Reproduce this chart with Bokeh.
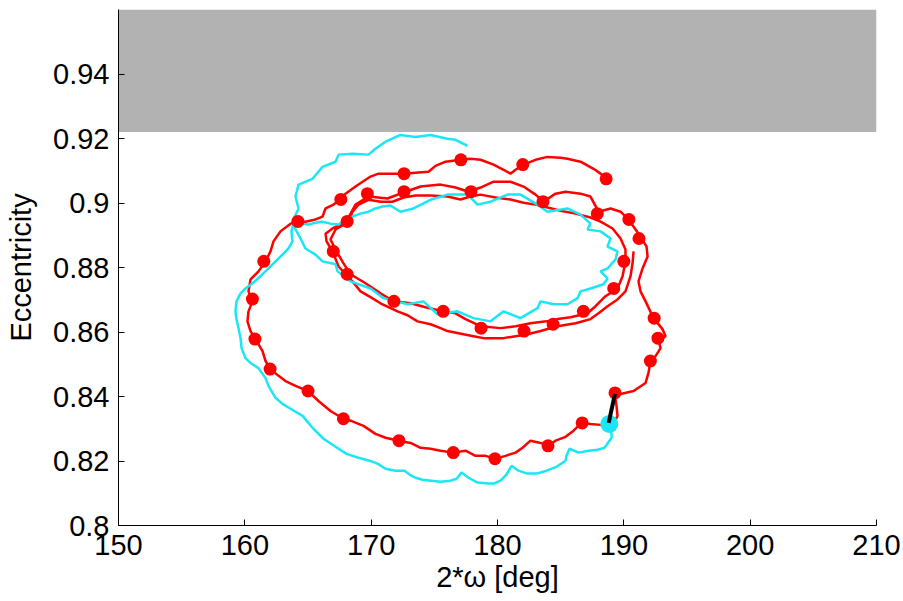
from bokeh.plotting import figure
from bokeh.models import FixedTicker, CustomJSTickFormatter, Range1d
from bokeh.embed import file_html
from bokeh.resources import INLINE

# ---------------- data ----------------
x_ticks = [150, 160, 170, 180, 190, 200, 210]
y_ticks = [0.80, 0.82, 0.84, 0.86, 0.88, 0.90, 0.92, 0.94]

# forbidden (grey) eccentricity zone
band_x = [150, 210]
band_y = [0.922, 0.96]

# cyan track (starts at the cyan marker)
cyan_x = [188.79, 189.03, 189.03, 188.47, 187.92, 187.21, 186.41, 185.70, 185.46, 185.39,
          184.67, 183.88, 183.09, 182.38, 181.66, 181.11, 180.71, 180.24, 179.69, 179.29,
          178.42, 177.71, 177.15, 176.76, 176.28, 175.49, 174.78, 174.06, 173.51, 173.04,
          172.64, 171.93, 171.14, 170.50, 169.87, 169.00, 168.05, 167.18, 166.23, 165.36,
          164.57, 163.62, 162.98, 162.43, 161.87, 161.64, 161.08, 160.45, 160.05, 159.74,
          159.66, 159.50, 159.34, 159.26, 159.34, 159.66, 160.05, 160.61, 161.24, 161.87,
          162.43, 162.98, 163.46, 163.77, 163.69, 163.85, 164.41, 165.04, 165.59, 166.15,
          166.78, 167.42, 167.97, 168.52, 169.16, 169.79, 170.34, 170.90, 171.53, 172.32,
          173.35, 174.70, 176.04, 177.63, 178.42, 179.45, 180.79, 181.82, 183.17, 183.96,
          185.54, 186.57, 187.36, 187.13, 188.16, 188.95, 188.71, 189.50, 189.34, 188.71,
          188.16, 188.71, 188.39, 187.36, 186.57, 186.34, 185.54, 184.44, 183.41, 183.17,
          181.82, 180.48, 179.45, 178.10, 176.84, 175.25, 174.14, 172.88, 170.98, 169.95,
          168.37, 167.34, 167.18, 166.15, 165.59, 164.80, 164.41, 164.01, 163.85, 164.25,
          164.01, 164.25, 165.36, 165.83, 166.15, 167.18, 167.42, 168.52, 169.79, 170.34,
          171.14, 172.32, 173.51, 174.70, 176.04, 176.68, 177.63]
cyan_y = [0.8309, 0.8284, 0.8272, 0.8241, 0.8235, 0.8232, 0.8226, 0.8238, 0.8216, 0.8201,
          0.8182, 0.8170, 0.8161, 0.8161, 0.8170, 0.8185, 0.8158, 0.8139, 0.8130, 0.8130,
          0.8133, 0.8148, 0.8164, 0.8145, 0.8139, 0.8136, 0.8139, 0.8142, 0.8148, 0.8158,
          0.8170, 0.8170, 0.8176, 0.8192, 0.8201, 0.8210, 0.8222, 0.8244, 0.8269, 0.8303,
          0.8340, 0.8362, 0.8377, 0.8396, 0.8433, 0.8457, 0.8488, 0.8504, 0.8519, 0.8550,
          0.8581, 0.8612, 0.8640, 0.8664, 0.8695, 0.8720, 0.8735, 0.8751, 0.8773, 0.8797,
          0.8819, 0.8840, 0.8859, 0.8881, 0.8912, 0.8936, 0.8936, 0.8933, 0.8939, 0.8942,
          0.8936, 0.8933, 0.8949, 0.8958, 0.8967, 0.8973, 0.8983, 0.8989, 0.8992, 0.8973,
          0.8983, 0.9010, 0.9026, 0.9026, 0.8995, 0.9004, 0.9026, 0.9026, 0.8995, 0.8973,
          0.8983, 0.8964, 0.8936, 0.8918, 0.8912, 0.8890, 0.8865, 0.8850, 0.8825, 0.8797,
          0.8788, 0.8766, 0.8748, 0.8735, 0.8726, 0.8705, 0.8686, 0.8686, 0.8695, 0.8674,
          0.8643, 0.8664, 0.8633, 0.8643, 0.8664, 0.8655, 0.8695, 0.8686, 0.8705, 0.8735,
          0.8757, 0.8788, 0.8810, 0.8819, 0.8840, 0.8859, 0.8890, 0.8918, 0.8949, 0.8983,
          0.9020, 0.9057, 0.9075, 0.9097, 0.9112, 0.9128, 0.9150, 0.9153, 0.9150, 0.9168,
          0.9190, 0.9211, 0.9205, 0.9211, 0.9199, 0.9196, 0.9177]

# red track
red_x = [190.77, 190.69, 190.53, 190.13, 189.50, 188.71, 188.00, 187.36, 186.18, 184.75,
         183.41, 182.38, 181.43, 180.48, 179.69, 178.89, 178.10, 177.31, 176.04, 175.49,
         174.70, 173.67, 172.88, 172.09, 171.37, 170.74, 169.95, 169.16, 168.52, 167.97,
         167.42, 166.94, 166.47, 166.39, 166.94, 167.57, 168.21, 168.52, 169.00, 169.79,
         170.74, 171.69, 172.56, 173.51, 174.70, 176.04, 177.07, 177.86, 178.66, 179.84,
         181.03, 182.06, 183.01, 183.96, 184.99, 186.18, 187.36, 188.16, 189.11, 189.74,
         190.13, 190.13, 189.90, 189.50, 188.55, 187.76, 187.13, 185.78, 184.75, 183.88,
         182.61, 181.43, 180.24, 178.66, 177.47, 176.68, 175.73, 174.30, 173.12, 171.77,
         170.74, 169.55, 168.37, 167.81, 167.26, 166.78, 167.18, 167.97, 168.37, 168.76,
         169.79, 171.29, 172.72, 173.91, 175.49, 176.68, 177.71, 178.66, 179.69, 181.03,
         182.06, 183.01, 183.64, 184.59, 185.39, 186.57, 187.36, 188.00, 188.95, 189.74,
         190.37, 190.93, 191.32, 191.80, 191.88, 191.48, 191.16, 191.32, 191.72, 192.35,
         193.06, 193.30, 192.75, 192.91, 192.51, 192.11, 191.95, 191.72, 190.77, 189.74,
         189.26, 189.42, 189.50, 189.11, 188.16, 187.36, 186.65, 186.02, 185.39, 184.59,
         184.04, 183.41, 182.61, 181.98, 181.43, 180.63, 179.84, 179.05, 178.26, 177.47,
         176.52, 175.49, 174.70, 173.91, 173.12, 172.16, 171.14, 170.34, 169.39, 168.37,
         167.81, 166.78, 165.83, 165.00, 164.01, 163.22, 162.67, 162.03, 161.64, 161.40,
         160.84, 160.45, 160.21, 160.29, 160.61, 160.29, 160.45, 161.08, 161.64, 162.03,
         162.27, 162.82, 163.62, 164.17, 164.80, 165.59, 166.15, 166.39, 167.02, 167.57,
         167.97, 168.76, 169.32, 169.95, 170.58, 171.53, 172.56, 173.51, 174.54, 175.09,
         175.89, 177.07, 177.86, 178.66, 179.69, 180.48, 181.03, 181.43, 182.06, 183.01,
         183.96, 184.99, 185.54, 186.57, 187.60, 188.16, 188.71]
red_y = [0.8850, 0.8813, 0.8773, 0.8726, 0.8701, 0.8680, 0.8658, 0.8640, 0.8627, 0.8618,
         0.8603, 0.8593, 0.8587, 0.8581, 0.8581, 0.8581, 0.8587, 0.8593, 0.8603, 0.8612,
         0.8624, 0.8633, 0.8652, 0.8664, 0.8677, 0.8689, 0.8708, 0.8726, 0.8757, 0.8779,
         0.8803, 0.8850, 0.8881, 0.8905, 0.8921, 0.8933, 0.8942, 0.8973, 0.8995, 0.9010,
         0.9004, 0.9004, 0.9017, 0.9023, 0.9023, 0.9020, 0.9011, 0.9020, 0.9026, 0.9017,
         0.9011, 0.9001, 0.8995, 0.8986, 0.8976, 0.8967, 0.8955, 0.8942, 0.8921, 0.8890,
         0.8856, 0.8819, 0.8773, 0.8735, 0.8711, 0.8680, 0.8658, 0.8646, 0.8640, 0.8633,
         0.8627, 0.8618, 0.8612, 0.8618, 0.8640, 0.8658, 0.8664, 0.8677, 0.8689, 0.8695,
         0.8720, 0.8751, 0.8779, 0.8813, 0.8850, 0.8887, 0.8918, 0.8936, 0.8967, 0.8995,
         0.9020, 0.9014, 0.9035, 0.9051, 0.9057, 0.9048, 0.9035, 0.9048, 0.9066, 0.9066,
         0.9051, 0.9026, 0.9004, 0.9029, 0.9035, 0.9029, 0.9020, 0.8973, 0.8983, 0.8973,
         0.8949, 0.8918, 0.8896, 0.8865, 0.8834, 0.8797, 0.8757, 0.8726, 0.8695, 0.8643,
         0.8609, 0.8587, 0.8572, 0.8550, 0.8525, 0.8510, 0.8473, 0.8442, 0.8417, 0.8408,
         0.8411, 0.8371, 0.8340, 0.8309, 0.8312, 0.8315, 0.8318, 0.8294, 0.8275, 0.8263,
         0.8247, 0.8256, 0.8263, 0.8241, 0.8226, 0.8216, 0.8207, 0.8216, 0.8216, 0.8232,
         0.8226, 0.8232, 0.8238, 0.8241, 0.8256, 0.8263, 0.8272, 0.8284, 0.8309, 0.8325,
         0.8331, 0.8355, 0.8386, 0.8417, 0.8433, 0.8448, 0.8464, 0.8485, 0.8510, 0.8541,
         0.8578, 0.8603, 0.8633, 0.8664, 0.8695, 0.8726, 0.8763, 0.8788, 0.8819, 0.8850,
         0.8881, 0.8912, 0.8936, 0.8942, 0.8942, 0.8949, 0.8958, 0.8983, 0.8995, 0.9011,
         0.9029, 0.9051, 0.9066, 0.9082, 0.9091, 0.9091, 0.9091, 0.9094, 0.9097, 0.9115,
         0.9128, 0.9134, 0.9137, 0.9134, 0.9119, 0.9103, 0.9091, 0.9103, 0.9119, 0.9134,
         0.9143, 0.9140, 0.9137, 0.9128, 0.9106, 0.9091, 0.9075]

# red markers along the red track
dots_x = [188.6, 182.0, 177.1, 172.6, 169.7, 172.6, 177.9, 183.6, 187.9, 190.4,
          191.2, 167.6, 164.2, 168.1, 167.0, 168.1, 161.5, 160.6, 175.7, 171.8,
          182.1, 184.4, 186.8, 189.2, 190.0, 192.4, 192.7, 192.1, 189.3, 186.7,
          184.0, 179.8, 176.5, 172.2, 167.8, 165.0, 162.0, 160.8, 178.7]
dots_y = [0.9075, 0.9119, 0.9134, 0.9091, 0.9029, 0.9035, 0.9035, 0.9004, 0.8967, 0.8949,
          0.8890, 0.9011, 0.8943, 0.8943, 0.8850, 0.8779, 0.8819, 0.8702, 0.8664, 0.8695,
          0.8603, 0.8624, 0.8664, 0.8735, 0.8819, 0.8643, 0.8581, 0.8510, 0.8411, 0.8318,
          0.8247, 0.8207, 0.8226, 0.8263, 0.8331, 0.8417, 0.8485, 0.8578, 0.8612]

# cyan start marker and black connector
start_x = [188.85]
start_y = [0.8315]
link_x = [188.8, 189.3]
link_y = [0.8318, 0.8408]

# ---------------- figure ----------------
FONT = "Liberation Sans"
RED = "#FF0000"
CYAN = "#1AE6F6"
GREY = "#B2B2B2"

p = figure(width=903, height=601, output_backend="svg", toolbar_location=None,
           x_range=Range1d(150, 210), y_range=Range1d(0.8, 0.96),
           min_border_left=118, min_border_right=27, min_border_top=9, min_border_bottom=76,
           background_fill_color="white", border_fill_color="white")
p.outline_line_color = None
p.xgrid.grid_line_color = None
p.ygrid.grid_line_color = None

p.quad(left=[band_x[0]], right=[band_x[1]], bottom=[band_y[0]], top=[band_y[1]],
       fill_color=GREY, line_color=None)

p.line(red_x, red_y, line_color=RED, line_width=2.5)
p.line(cyan_x, cyan_y, line_color=CYAN, line_width=2.5)
p.scatter(dots_x, dots_y, size=13, fill_color=RED, line_color=None)
p.scatter(start_x, start_y, size=18, fill_color=CYAN, line_color=None)
p.line(link_x, link_y, line_color="black", line_width=4)

p.xaxis.ticker = FixedTicker(ticks=x_ticks)
p.yaxis.ticker = FixedTicker(ticks=y_ticks)
p.xaxis.formatter = CustomJSTickFormatter(code="return String(Math.round(tick));")
p.yaxis.formatter = CustomJSTickFormatter(code="return String(Math.round(tick*100)/100);")

for ax in (p.xaxis[0], p.yaxis[0]):
    ax.axis_line_color = "black"
    ax.axis_line_width = 1
    ax.major_tick_line_color = "black"
    ax.major_tick_in = 6
    ax.major_tick_out = 0
    ax.minor_tick_line_color = None
    ax.major_label_text_font = FONT
    ax.major_label_text_font_size = "29px"
    ax.major_label_text_color = "black"
    ax.axis_label_text_font = FONT
    ax.axis_label_text_font_size = "29px"
    ax.axis_label_text_font_style = "normal"
    ax.axis_label_text_color = "black"

p.xaxis.axis_label = "2*\u03c9 [deg]"
p.yaxis.axis_label = "Eccentricity"
p.xaxis.major_label_standoff = 9
p.xaxis.axis_label_standoff = 3
p.yaxis.major_label_standoff = 9
p.yaxis.axis_label_standoff = 13

open("out.html", "w").write(file_html(p, INLINE))
